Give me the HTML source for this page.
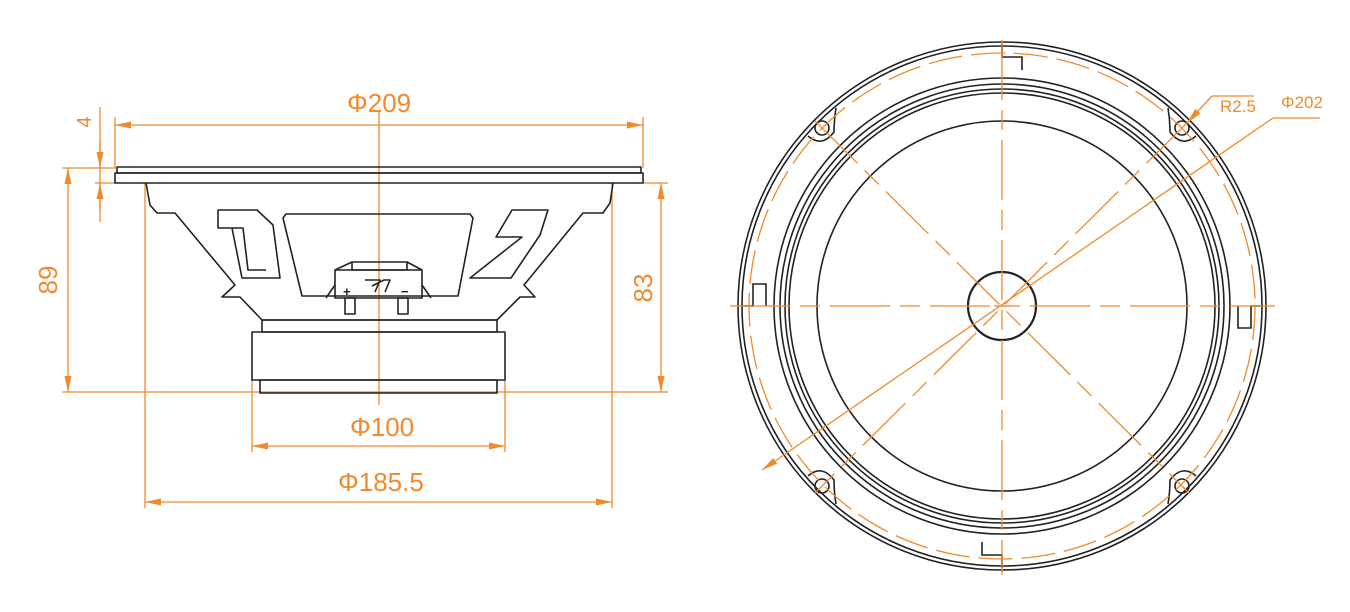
<!DOCTYPE html>
<html><head><meta charset="utf-8"><style>
html,body{margin:0;padding:0;background:#fff;width:1350px;height:612px;overflow:hidden}
text{font-family:"Liberation Sans",sans-serif;fill:#f08a2c;font-weight:300}
</style></head><body>
<svg width="1350" height="612" viewBox="0 0 1350 612" xmlns="http://www.w3.org/2000/svg">
<defs>
<marker id="a" viewBox="0 0 16 8" refX="16" refY="4" markerWidth="16" markerHeight="8" markerUnits="userSpaceOnUse" orient="auto-start-reverse"><path d="M0,0.5L16,4L0,7.5z" fill="#f08a2c"/></marker>
</defs>
<g stroke="#f08a2c" stroke-width="1.3" fill="none">
<line x1="115" y1="117" x2="115" y2="168"/>
<line x1="643" y1="117" x2="643" y2="168"/>
<line x1="62" y1="168" x2="116" y2="168"/>
<line x1="95" y1="183" x2="116" y2="183"/>
<line x1="643" y1="183" x2="668" y2="183"/>
<line x1="62" y1="392" x2="668" y2="392"/>
<line x1="145" y1="183" x2="145" y2="508"/>
<line x1="612" y1="183" x2="612" y2="508"/>
<line x1="252" y1="380" x2="252" y2="452"/>
<line x1="505" y1="380" x2="505" y2="452"/>
<line x1="379" y1="112" x2="379" y2="405"/>
<line x1="100" y1="107" x2="100" y2="222"/>
<line x1="115" y1="125" x2="643" y2="125" marker-start="url(#a)" marker-end="url(#a)"/>
<line x1="68" y1="168" x2="68" y2="392" marker-start="url(#a)" marker-end="url(#a)"/>
<line x1="661" y1="183" x2="661" y2="392" marker-start="url(#a)" marker-end="url(#a)"/>
<line x1="252" y1="446" x2="505" y2="446" marker-start="url(#a)" marker-end="url(#a)"/>
<line x1="145" y1="502" x2="612" y2="502" marker-start="url(#a)" marker-end="url(#a)"/>
<line x1="100" y1="140" x2="100" y2="168" marker-end="url(#a)"/>
<line x1="100" y1="210" x2="100" y2="183" marker-end="url(#a)"/>
</g>
<text x="347" y="112" font-size="26">Φ209</text>
<text x="350" y="436" font-size="26">Φ100</text>
<text x="338" y="491" font-size="26">Φ185.5</text>
<text transform="translate(57,280) rotate(-90)" font-size="26" text-anchor="middle">89</text>
<text transform="translate(652,288) rotate(-90)" font-size="26" text-anchor="middle">83</text>
<text transform="translate(91,122) rotate(-90)" font-size="20" text-anchor="middle">4</text>

<g stroke="#222" stroke-width="1.6" fill="none" stroke-linejoin="round">
<rect x="117" y="167" width="524" height="6"/>
<rect x="115" y="173" width="528" height="10"/>
<path d="M146,183 L150,205 L157,213 L175,213 L235,285 L222,297 L240,297 L262,320 L497,320 L520,297 L535,297 L524,285 L583,213 L603,213 L610,203 L613,183"/>
<path d="M286,214 L470,214 L473,218 L458,296 L302,296 L283,218 Z"/>
<path d="M218,210 L257,210 L273,225 L280,278 L242,278 L232,228 L218,228 Z"/>
<path d="M232,228 L243,228 L248,270 L266,270"/>
<path d="M548,210 L512,210 L496,237 L522,237 L470,278 L511,278 L540,235 Z"/>
<rect x="262" y="320" width="235" height="12"/>
<rect x="252" y="332" width="253" height="48"/>
<rect x="260" y="380" width="237" height="13"/>
<path d="M335,298 L335,270 L352,262 L407,262 L422,270 L422,298 Z"/>
<path d="M352,262 L352,270 L407,270 L407,262"/>
<path d="M335,270 L422,270"/>
<path d="M326,298 L335,285 M422,285 L431,298"/>
<rect x="345" y="298" width="10" height="16"/>
<rect x="398" y="298" width="10" height="16"/>
<path d="M365,280 L380,280 L375,292 M372,286 L384,280 L390,280 L385,292"/>
</g>
<text x="343" y="296" font-size="13" style="fill:#222;font-weight:700">+</text>
<text x="401" y="296" font-size="13" style="fill:#222;font-weight:700">−</text>

<g fill="none">
<g stroke="#222" stroke-width="1.6">
<circle cx="1002" cy="306" r="264"/>
<circle cx="1002" cy="306" r="260"/>
<circle cx="1002" cy="306" r="228"/>
<circle cx="1002" cy="306" r="222"/>
<circle cx="1002" cy="306" r="217"/>
<circle cx="1002" cy="306" r="213"/>
<circle cx="1002" cy="306" r="185"/>
<circle cx="1002" cy="306" r="34" stroke-width="2.2"/>
<circle cx="822" cy="128" r="7"/><circle cx="1182" cy="128" r="7"/>
<circle cx="822" cy="486" r="7"/><circle cx="1182" cy="486" r="7"/>
<path d="M808,136 Q822,148 834,132 Q834,120 836,108"/>
<path d="M1196,136 Q1182,148 1170,132 Q1170,120 1168,108"/>
<path d="M808,476 Q822,464 834,480 Q834,492 836,504"/>
<path d="M1196,476 Q1182,464 1170,480 Q1170,492 1168,504"/>
<path d="M741,306 L753,306 L753,284 L766,284 L766,306"/>
<path d="M1263,306 L1251,306 L1251,328 L1238,328 L1238,306"/>
<path d="M1002,44 L1002,57 L1022,57 L1022,70"/>
<path d="M1002,568 L1002,555 L982,555 L982,542"/>
</g>
<g stroke="#f08a2c" stroke-width="1.3">
<circle cx="1002" cy="306" r="253" stroke-dasharray="34,9"/>
<line x1="730" y1="306" x2="1275" y2="306" stroke-dasharray="60,10,20,10"/>
<line x1="1002" y1="40" x2="1002" y2="575" stroke-dasharray="60,10,20,10"/>
<line x1="815" y1="121" x2="1189" y2="493" stroke-dasharray="60,10,20,10"/>
<line x1="1189" y1="121" x2="815" y2="493" stroke-dasharray="60,10,20,10"/>
<line x1="762" y1="470" x2="1273" y2="118" marker-start="url(#a)"/>
<line x1="1273" y1="118" x2="1320" y2="118"/>
<line x1="1187" y1="123" x2="1212" y2="96" marker-start="url(#a)"/>
<line x1="1212" y1="96" x2="1254" y2="96"/>
<line x1="994" y1="306" x2="1010" y2="306"/>
</g>
</g>
<text x="1220" y="112" font-size="17">R2.5</text>
<text x="1281" y="108" font-size="17">Φ202</text>
</svg>
</body></html>
